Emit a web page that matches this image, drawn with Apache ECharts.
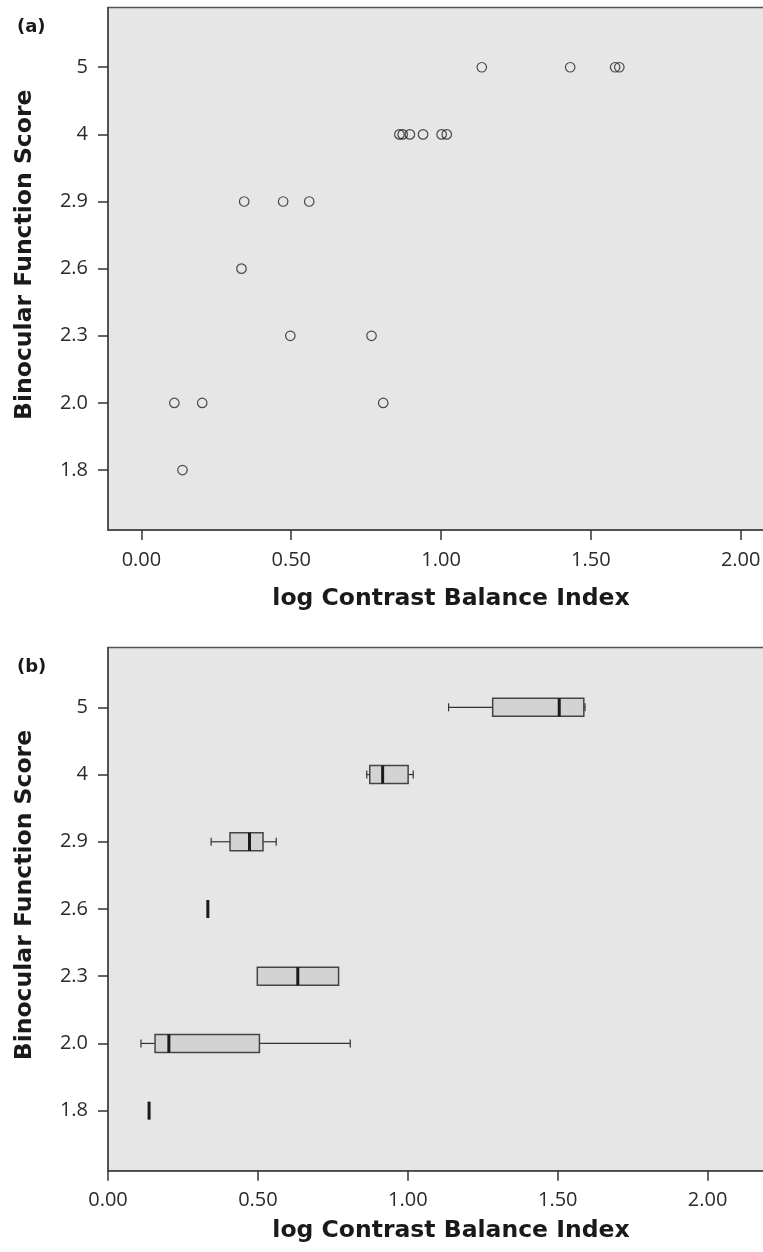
<!DOCTYPE html>
<html>
<head>
<meta charset="utf-8">
<script src="https://cdn.jsdelivr.net/npm/echarts@6/dist/echarts.min.js"></script>
<style>
html,body{margin:0;padding:0;background:#fff;overflow:hidden;width:763px;height:1252px;}
#chart{width:800px;height:1252px;}
</style>
</head>
<body>
<div id="chart"></div>
<script>
// Binocular function score categories (y axis, bottom to top)
const scoreLabels = ['1.8', '2.0', '2.3', '2.6', '2.9', '4', '5'];
// x tick values
const xTicks = [0, 0.5, 1, 1.5, 2];
// Panel (a): log CBI values of each observer, per score category
const cbiByScore = [
  [0.137],
  [0.110, 0.203, 0.807],
  [0.497, 0.768],
  [0.334],
  [0.343, 0.473, 0.560],
  [0.861, 0.872, 0.896, 0.940, 1.002, 1.019],
  [1.136, 1.431, 1.581, 1.595]
];
// Panel (b): box plot statistics per score category
const boxMin = [0.137, 0.110, 0.498, 0.333, 0.344, 0.863, 1.136];
const boxQ1  = [0.137, 0.157, 0.498, 0.333, 0.407, 0.873, 1.283];
const boxMed = [0.137, 0.203, 0.633, 0.333, 0.472, 0.916, 1.505];
const boxQ3  = [0.137, 0.505, 0.769, 0.333, 0.517, 1.001, 1.587];
const boxMax = [0.137, 0.808, 0.769, 0.333, 0.561, 1.018, 1.591];

const scatterData = [];
cbiByScore.forEach((vals, i) => vals.forEach(v => scatterData.push([v, i + 1])));
const boxData = scoreLabels.map((s, i) => [i + 1, boxMin[i], boxQ1[i], boxMed[i], boxQ3[i], boxMax[i]]);

const FONT = '"Open Sans", "DejaVu Sans", sans-serif';
const TFONT = '"DejaVu Sans", sans-serif';
const yIdx = scoreLabels.map((s, i) => i + 1);

function makeX(gridIndex, min, max, nameGap) {
  return {
    type: 'value', gridIndex, min, max,
    name: 'log Contrast Balance Index', nameLocation: 'middle', nameGap,
    nameTextStyle: {fontFamily: TFONT, fontWeight: 'bold', fontSize: 23.5, color: '#1a1a1a'},
    axisLine: {show: true, onZero: false, lineStyle: {color: '#444', width: 1.5}},
    axisTick: {show: true, inside: false, length: 10, customValues: xTicks, lineStyle: {color: '#333', width: 1.5}},
    axisLabel: {customValues: xTicks, margin: 20, fontFamily: FONT, fontSize: 20, color: '#2a2a2a',
      formatter: v => Number(v).toFixed(2)},
    splitLine: {show: false}
  };
}
function makeY(gridIndex) {
  return {
    type: 'value', gridIndex, min: 0.107, max: 7.89,
    name: 'Binocular Function Score', nameLocation: 'middle', nameGap: 71,
    nameTextStyle: {fontFamily: TFONT, fontWeight: 'bold', fontSize: 23.5, color: '#1a1a1a', padding: [0, 0, 0, 28]},
    axisLine: {show: true, onZero: false, lineStyle: {color: '#444', width: 1.5}},
    axisTick: {show: true, inside: false, length: 10, customValues: yIdx, lineStyle: {color: '#333', width: 1.5}},
    axisLabel: {customValues: yIdx, margin: 20, fontFamily: FONT, fontSize: 20, color: '#2a2a2a',
      formatter: v => scoreLabels[Math.round(v) - 1] || ''},
    splitLine: {show: false}
  };
}

function renderBox(params, api) {
  const y = api.value(0);
  const lo = api.value(1), q1 = api.value(2), md = api.value(3), q3 = api.value(4), hi = api.value(5);
  const pLo = api.coord([lo, y]), pQ1 = api.coord([q1, y]), pMd = api.coord([md, y]),
        pQ3 = api.coord([q3, y]), pHi = api.coord([hi, y]);
  const cy = pMd[1], h = 9, c = 4;
  const whisk = {stroke: '#333', lineWidth: 1.2};
  const children = [];
  if (q1 > lo) {
    children.push({type: 'line', shape: {x1: pLo[0], y1: cy, x2: pQ1[0], y2: cy}, style: whisk});
    children.push({type: 'line', shape: {x1: pLo[0], y1: cy - c, x2: pLo[0], y2: cy + c}, style: whisk});
  }
  if (hi > q3) {
    children.push({type: 'line', shape: {x1: pQ3[0], y1: cy, x2: pHi[0], y2: cy}, style: whisk});
    children.push({type: 'line', shape: {x1: pHi[0], y1: cy - c, x2: pHi[0], y2: cy + c}, style: whisk});
  }
  if (q3 > q1) {
    children.push({type: 'rect', shape: {x: pQ1[0], y: cy - h, width: pQ3[0] - pQ1[0], height: 2 * h},
      style: {fill: '#d3d3d3', stroke: '#444', lineWidth: 1.5}});
  }
  children.push({type: 'line', shape: {x1: pMd[0], y1: cy - h, x2: pMd[0], y2: cy + h},
    style: {stroke: '#1a1a1a', lineWidth: 3}});
  return {type: 'group', children};
}

const chart = echarts.init(document.getElementById('chart'), null, {renderer: 'canvas', width: 800, height: 1252});
chart.setOption({
  backgroundColor: '#ffffff',
  animation: false,
  title: [
    {text: '(a)', left: 12, top: 13, textStyle: {fontFamily: TFONT, fontWeight: 'bold', fontSize: 18, color: '#1a1a1a'}},
    {text: '(b)', left: 12, top: 653, textStyle: {fontFamily: TFONT, fontWeight: 'bold', fontSize: 18, color: '#1a1a1a'}}
  ],
  grid: [
    {left: 108, width: 686, top: 7.5, height: 522.5, show: true, backgroundColor: '#e6e6e6', borderColor: '#555', borderWidth: 1.5},
    {left: 108, width: 686, top: 647.5, height: 523.2, show: true, backgroundColor: '#e6e6e6', borderColor: '#555', borderWidth: 1.5}
  ],
  xAxis: [makeX(0, -0.1115, 2.178, 57), makeX(1, 0, 2.288, 48)],
  yAxis: [makeY(0), makeY(1)],
  series: [
    {
      type: 'scatter', xAxisIndex: 0, yAxisIndex: 0, data: scatterData,
      symbol: 'circle', symbolSize: 9.5,
      itemStyle: {color: 'rgba(0,0,0,0)', borderColor: '#222', borderWidth: 1.2}
    },
    {
      type: 'custom', xAxisIndex: 1, yAxisIndex: 1, data: boxData,
      encode: {x: [1, 2, 3, 4, 5], y: 0},
      renderItem: renderBox, clip: false
    }
  ]
});
</script>
</body>
</html>
